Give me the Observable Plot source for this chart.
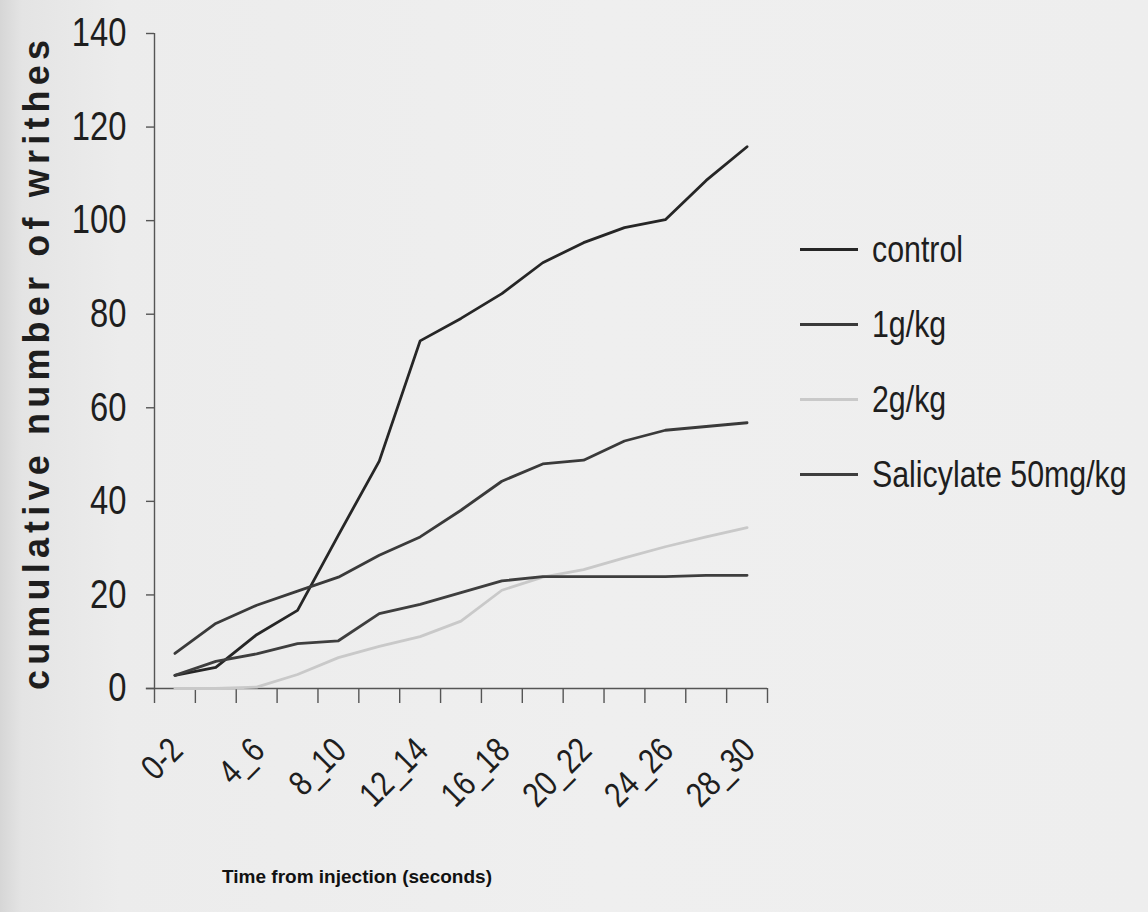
<!DOCTYPE html>
<html>
<head>
<meta charset="utf-8">
<script src="https://cdn.jsdelivr.net/npm/d3@7"></script>
<script src="https://cdn.jsdelivr.net/npm/@observablehq/plot@0.6"></script>
<style>
  html, body { margin: 0; padding: 0; }
  body {
    width: 1148px; height: 912px; overflow: hidden; position: relative;
    background: linear-gradient(to right, #d6d6d6 0px, #e4e4e4 22px, #ececec 120px, #efefef 600px, #eeeeee 100%);
  }
  #chart { position: absolute; left: 0; top: 0; }
  .legend { position: absolute; left: 800px; top: 212px; font-family: "Liberation Sans", Arial, sans-serif; font-size: 37px; color: #1e1e1e; white-space: nowrap; }
  .legend .item { display: flex; align-items: center; height: 75px; }
  .legend .swatch { width: 58px; height: 0; border-top: 3px solid #333; margin-right: 14px; flex: none; }
  .legend .lab { display: inline-block; transform: scaleX(0.82); transform-origin: left center; }
</style>
</head>
<body>
<div id="chart"></div>
<div class="legend" id="legend"></div>
<script>
const categories = ["0-2","2_4","4_6","6_8","8_10","10_12","12_14","14_16","16_18","18_20","20_22","22_24","24_26","26_28","28_30"];
const seriesNames = ["control", "1g/kg", "2g/kg", "Salicylate 50mg/kg"];
const control = [2.8, 4.5, 11.5, 16.7, 32.8, 48.6, 74.3, 79.1, 84.4, 91, 95.3, 98.5, 100.2, 108.6, 115.8];
const g1 = [7.5, 13.9, 17.8, 20.8, 23.8, 28.5, 32.4, 38.1, 44.3, 48, 48.8, 52.9, 55.2, 56, 56.8];
const g2 = [0, 0, 0.3, 3.0, 6.6, 9.0, 11.1, 14.4, 21, 23.8, 25.4, 27.9, 30.3, 32.4, 34.4];
const salicylate = [2.8, 5.8, 7.4, 9.6, 10.2, 16.0, 18.0, 20.5, 23.0, 23.9, 23.9, 23.9, 23.9, 24.2, 24.2];
const yTicks = [0, 20, 40, 60, 80, 100, 120, 140];
const xLabelCats = ["0-2","4_6","8_10","12_14","16_18","20_22","24_26","28_30"];
const colors = ["#262626", "#3a3a3a", "#c9c9c9", "#3e3e3e"];
const yTitle = "cumulative number of writhes";
const xTitle = "Time from injection (seconds)";

const allSeries = [control, g1, g2, salicylate];
const toRows = (vals) => vals.map((v, i) => ({x: i + 0.5, y: v}));
const boundaries = d3.range(0, categories.length + 1);
const labelRows = xLabelCats.map(c => ({x: categories.indexOf(c) + 0.5, label: c}));

const font = "'Liberation Sans', Arial, sans-serif";

const plot = Plot.plot({
  width: 1148,
  height: 912,
  marginLeft: 154,
  marginRight: 381,
  marginTop: 33,
  marginBottom: 224,
  style: {background: "transparent", overflow: "visible"},
  x: {domain: [0, categories.length], axis: null},
  y: {domain: [0, 140], axis: null},
  marks: [
    Plot.ruleY([0], {x1: -0.2, x2: categories.length, stroke: "#555", strokeWidth: 1.4}),
    Plot.ruleX([0], {stroke: "#555", strokeWidth: 1.4}),
    Plot.axisX({ticks: boundaries, tickSize: 15, tickFormat: () => "", label: null, stroke: "#555", strokeWidth: 1.4}),
    Plot.axisY({ticks: yTicks, tickSize: 8, tickPadding: 20, stroke: "#555", strokeWidth: 1.4,
      fontSize: 40, fontFamily: font, fill: "#1e1e1e", label: null}),
    ...allSeries.map((vals, k) => Plot.line(toRows(vals), {x: "x", y: "y", stroke: colors[k], strokeWidth: 2.8, strokeLinejoin: "round"})),
    Plot.text(labelRows, {x: "x", y: 0, text: "label", dy: 56, dx: 2, rotate: -45, textAnchor: "end", lineAnchor: "middle",
      fontSize: 35, fontFamily: font, fill: "#1e1e1e"}),
    Plot.text([yTitle], {frameAnchor: "left", dx: -117, dy: 4, rotate: -90, textAnchor: "middle", lineAnchor: "middle",
      fontSize: 36, fontWeight: "bold", fontFamily: font, fill: "#1e1e1e"}),
    Plot.text([xTitle], {frameAnchor: "bottom", dx: -104, dy: 194, textAnchor: "middle", fontSize: 19, fontWeight: "bold",
      fontFamily: font, fill: "#111"})
  ]
});

const narrowSet = new Set([...yTicks.map(String), ...xLabelCats]);
d3.select(plot).selectAll("text").each(function() {
  const txt = this.textContent;
  if (txt === yTitle) {
    this.setAttribute("textLength", 650);
    this.setAttribute("lengthAdjust", "spacing");
    return;
  }
  if (!narrowSet.has(txt)) return;
  const t = this.getAttribute("transform") || "";
  this.setAttribute("transform", `${t} scale(0.82,1)`);
});
document.getElementById("chart").appendChild(plot);

const legend = document.getElementById("legend");
seriesNames.forEach((name, k) => {
  const item = document.createElement("div");
  item.className = "item";
  const sw = document.createElement("span");
  sw.className = "swatch";
  sw.style.borderTopColor = colors[k];
  const t = document.createElement("span");
  t.className = "lab";
  t.textContent = name;
  item.appendChild(sw); item.appendChild(t);
  legend.appendChild(item);
});
</script>
</body>
</html>
